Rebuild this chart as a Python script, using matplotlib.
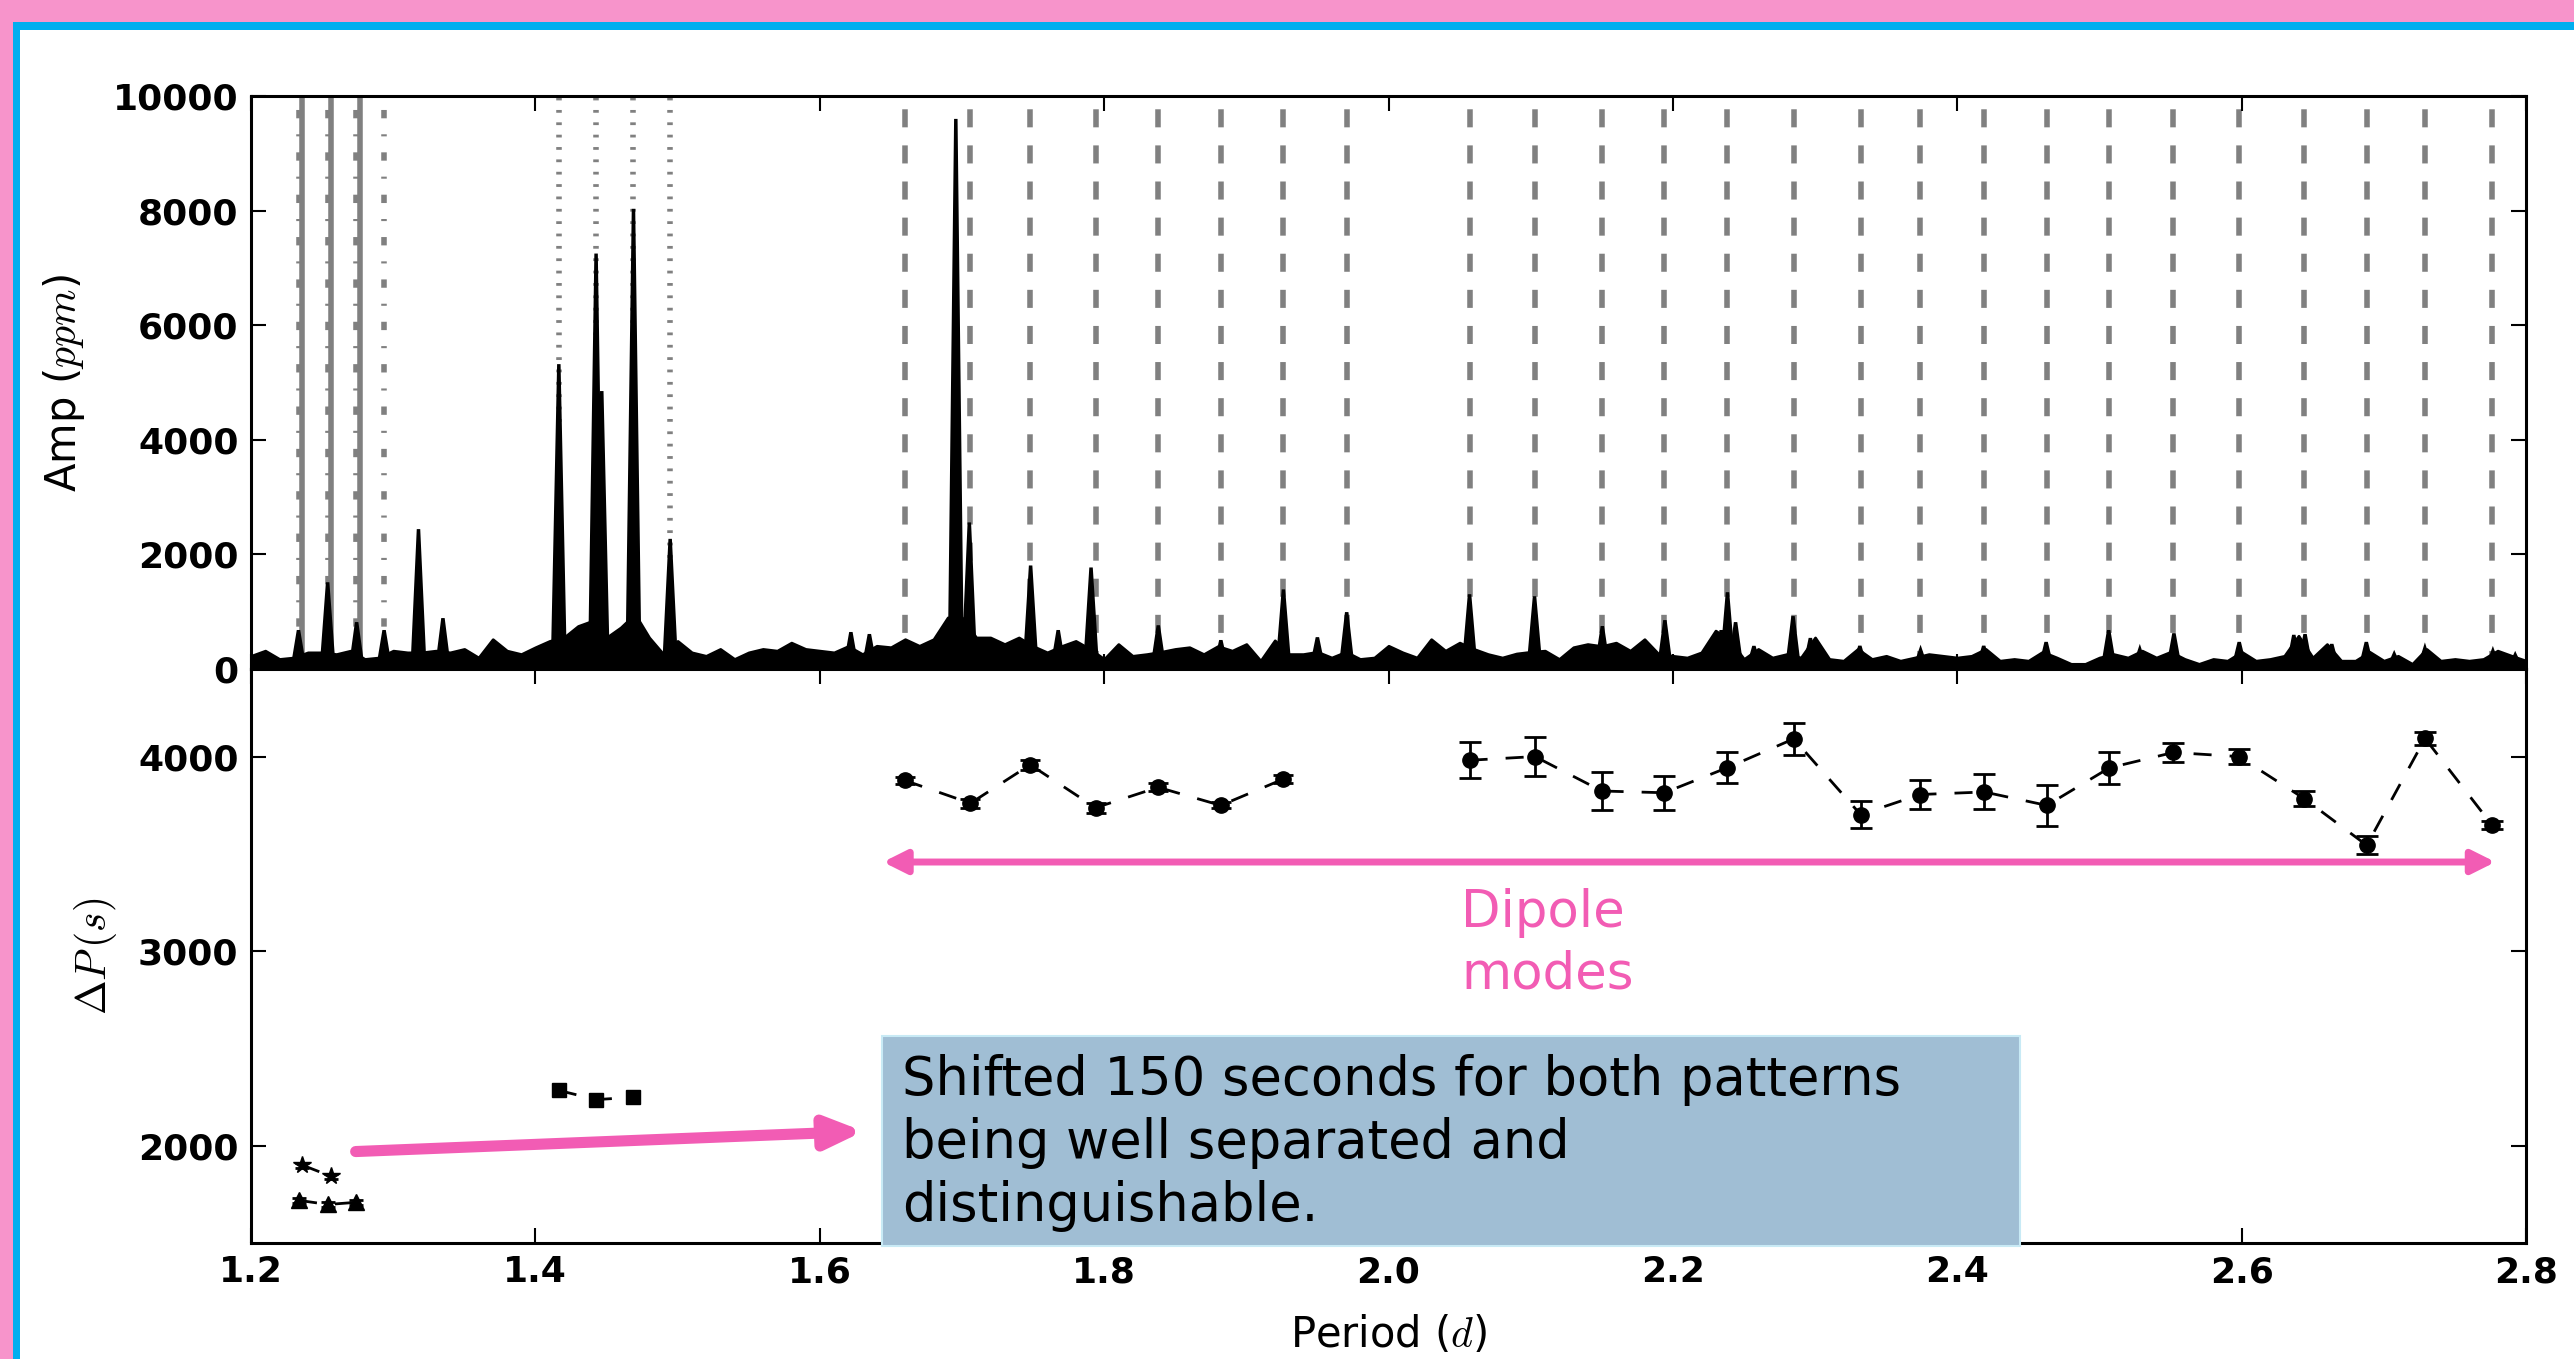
import numpy as np
import matplotlib
matplotlib.use('Agg')
import matplotlib.pyplot as plt
from matplotlib.patches import Rectangle

plt.rcParams['font.family'] = ['DejaVu Sans']
plt.rcParams['mathtext.fontset'] = 'cm'
plt.rcParams['lines.scale_dashes'] = False

# ---------------- data ----------------
# periodogram noise floor (period grid 1.20..2.80 step 0.01), ppm
noise_period = np.round(np.arange(1.20, 2.8001, 0.01), 2)
noise_amp = [230, 320, 175, 200, 290, 290, 260, 320, 175, 200,
             320, 290, 290, 320, 290, 350, 200, 520, 320, 260,
             380, 490, 550, 750, 840, 550, 725, 960, 550, 260,
             490, 290, 230, 350, 175, 290, 350, 320, 460, 350,
             320, 290, 400, 260, 405, 380, 520, 405, 520, 900,
             900, 550, 550, 435, 550, 400, 290, 400, 490, 350,
             175, 435, 230, 260, 300, 350, 380, 260, 400, 320,
             435, 145, 500, 260, 260, 300, 200, 300, 175, 200,
             405, 290, 200, 520, 320, 460, 350, 260, 200, 270,
             300, 320, 175, 380, 435, 400, 460, 320, 520, 260,
             230, 200, 290, 670, 500, 175, 350, 200, 260, 200,
             550, 175, 145, 350, 175, 230, 145, 200, 260, 230,
             200, 230, 350, 145, 175, 145, 300, 200, 90, 90,
             200, 260, 200, 320, 200, 300, 175, 90, 175, 145,
             300, 145, 175, 230, 580, 200, 435, 145, 145, 300,
             145, 230, 90, 350, 145, 175, 145, 175, 320, 230, 145]

# periodogram peaks
peak_period = [1.2334, 1.2539, 1.2743, 1.2936, 1.3178, 1.3350, 1.4165, 1.4427,
               1.4467, 1.4690, 1.4948, 1.6219, 1.6349, 1.6957, 1.7052, 1.7483,
               1.7677, 1.7908, 1.8381, 1.8821, 1.9261, 1.9500, 1.9706, 2.0570,
               2.1027, 2.1504, 2.1944, 2.2340, 2.2384, 2.2441, 2.2570, 2.2845,
               2.2967, 2.3315, 2.3742, 2.4186, 2.4625, 2.5065, 2.5284, 2.5524,
               2.5983, 2.6367, 2.6446, 2.6634, 2.6877, 2.7073, 2.7289, 2.7767,
               2.7924]
peak_amp = [676, 1512, 815, 676, 2440, 885, 5320, 7250,
            4850, 8030, 2270, 641, 606, 9600, 2557, 1805,
            676, 1770, 760, 500, 1387, 550, 990, 1303,
            1268, 746, 850, 676, 1338, 815, 397, 920,
            537, 400, 330, 400, 467, 676, 341, 620,
            467, 592, 606, 432, 467, 258, 362, 313,
            244]

# mode-period markers (vertical lines)
solid_lines = [1.2362, 1.2566, 1.2766]
dashdot_lines = [1.2338, 1.2540, 1.2739, 1.2938]
dotted_lines = [1.4163, 1.4428, 1.4690, 1.4949]
dashed_lines = [1.660, 1.706, 1.748, 1.794, 1.838, 1.882, 1.926, 1.971,
                2.057, 2.103, 2.150, 2.194, 2.238, 2.285, 2.332, 2.374,
                2.419, 2.463, 2.507, 2.552, 2.598, 2.644, 2.688, 2.729, 2.776]

# period spacings (s)
star_period = [1.2362, 1.2566]
star_dp = [1900, 1842]
star_err = [12, 12]
tri_period = [1.2338, 1.2540, 1.2739]
tri_dp = [1719, 1698, 1709]
tri_err = [12, 12, 12]
sq_period = [1.4165, 1.4428, 1.4690]
sq_dp = [2284, 2237, 2249]
sq_err = [15, 15, 15]
dipA_period = [1.660, 1.706, 1.748, 1.794, 1.838, 1.882, 1.926]
dipA_dp = [3877, 3760, 3958, 3737, 3842, 3749, 3884]
dipA_err = [20, 22, 25, 25, 20, 15, 20]
dipB_period = [2.057, 2.103, 2.150, 2.194, 2.238, 2.285, 2.332, 2.374, 2.419,
               2.463, 2.507, 2.552, 2.598, 2.644, 2.688, 2.729, 2.776]
dipB_dp = [3981, 4000, 3823, 3814, 3942, 4091, 3702, 3805, 3818,
           3749, 3942, 4021, 4000, 3784, 3544, 4093, 3649]
dipB_err = [92, 100, 97, 87, 80, 81, 70, 73, 90,
            107, 84, 51, 40, 37, 47, 33, 20]

x_ticks = [1.2, 1.4, 1.6, 1.8, 2.0, 2.2, 2.4, 2.6, 2.8]
amp_ticks = [0, 2000, 4000, 6000, 8000, 10000]
dp_ticks = [2000, 3000, 4000]

# ---------------- figure ----------------
W, H = 2574, 1359
PINK_BG = '#F794CB'
BLUE = '#00AEEF'
PINK = '#F25CB4'
GRAY = '#808080'

fig = plt.figure(figsize=(W / 100, H / 100), dpi=100)
fig.patch.set_facecolor(PINK_BG)
fig.add_artist(Rectangle((13 / W, 0), 1, 1 - 21.7 / H, transform=fig.transFigure,
                         facecolor=BLUE, edgecolor='none', zorder=-10))
fig.add_artist(Rectangle((20 / W, 0), 1, 1 - 30 / H, transform=fig.transFigure,
                         facecolor='white', edgecolor='none', zorder=-9))

ax1 = fig.add_axes([251 / W, 1 - 669 / H, 2275 / W, 573 / H])
ax2 = fig.add_axes([251 / W, 1 - 1243 / H, 2275 / W, 574 / H], sharex=ax1)

# vertical lines
for p in solid_lines:
    ax1.axvline(p, color=GRAY, lw=4, ls='-', zorder=1)
for p in dashdot_lines:
    ax1.axvline(p, color=GRAY, lw=4, ls=(0, (6, 11.5, 1.5, 11.5)), zorder=1)
for p in dotted_lines:
    ax1.axvline(p, color=GRAY, lw=4, ls=(0, (2, 6.9)), zorder=1)
for p in dashed_lines:
    ax1.axvline(p, color=GRAY, lw=4, ls=(0, (13, 13)), zorder=1)

# spectrum
ax1.fill_between(noise_period, noise_amp, 0, color='k', lw=2.0, zorder=3)
w = 0.0045
for p, a in zip(peak_period, peak_amp):
    ax1.fill([p - w, p, p + w], [0, a, 0], color='k', lw=2.5, zorder=3)

ax1.set_xlim(1.2, 2.8)
ax1.set_ylim(0, 10000)
ax1.set_yticks(amp_ticks, labels=[str(t) for t in amp_ticks], fontweight='bold')
ax1.tick_params(labelbottom=False)
ax1.set_ylabel('Amp ($ppm$)', fontsize=30)
ax1.yaxis.set_label_coords(-0.072, 0.5)

# period spacings
dash = (0, (13, 13))
for xs, ys, es, mk, ms, cs in [(star_period, star_dp, star_err, '*', 13, 5),
                               (tri_period, tri_dp, tri_err, '^', 11, 5),
                               (sq_period, sq_dp, sq_err, 's', 10, 5),
                               (dipA_period, dipA_dp, dipA_err, 'o', 11, 7),
                               (dipB_period, dipB_dp, dipB_err, 'o', 11, 8)]:
    ax2.plot(xs, ys, color='k', ls=dash, lw=2, marker=mk, ms=ms, zorder=3)
    ax2.errorbar(xs, ys, yerr=es, fmt='none', ecolor='k', elinewidth=2,
                 capsize=cs, capthick=2, zorder=3)

ax2.set_ylim(1500, 4450)
ax2.set_yticks(dp_ticks, labels=[str(t) for t in dp_ticks], fontweight='bold')
ax2.set_xticks(x_ticks, labels=['%.1f' % t for t in x_ticks], fontweight='bold')
ax2.set_xlim(1.2, 2.8)
ax2.set_ylabel(r'$\Delta P\,(s)$', fontsize=30)
ax2.yaxis.set_label_coords(-0.058, 0.5)
ax2.set_xlabel('Period ($d$)', fontsize=30)
ax2.xaxis.set_label_coords(0.5, -0.124)

for ax in (ax1, ax2):
    ax.set_facecolor('white')
    ax.tick_params(direction='in', length=11, width=1.5, top=True, right=True,
                   labelsize=26, pad=9)
    for s in ax.spines.values():
        s.set_linewidth(2.2)

# annotations
ax2.annotate('', xy=(2.7785, 3458), xytext=(1.6445, 3458),
             arrowprops=dict(arrowstyle='<|-|>,head_length=1.0,head_width=0.5',
                             color=PINK, lw=5, mutation_scale=14,
                             shrinkA=0, shrinkB=0), zorder=4)
ax2.annotate('', xy=(1.6307, 2074), xytext=(1.2736, 1970),
             arrowprops=dict(arrowstyle='-|>,head_length=1.2,head_width=0.52',
                             color=PINK, lw=8, mutation_scale=18,
                             shrinkA=0, shrinkB=0), zorder=4)

fig.text(1461 / W, 1 - 888 / H, 'Dipole\nmodes', color=PINK, fontsize=37,
         va='top', ha='left', linespacing=1.3)

fig.add_artist(Rectangle((882 / W, 1 - 1246 / H), 1138 / W, 210 / H,
                         transform=fig.transFigure, facecolor='#A0BED4',
                         edgecolor='#C8EAF5', lw=1.5, zorder=5))
fig.text(902 / W, 1 - 1054 / H,
         'Shifted 150 seconds for both patterns\nbeing well separated and\ndistinguishable.',
         fontsize=38, va='top', ha='left', color='black', zorder=6,
         linespacing=1.27)

fig.savefig('out.png', dpi=100, facecolor=fig.get_facecolor())
